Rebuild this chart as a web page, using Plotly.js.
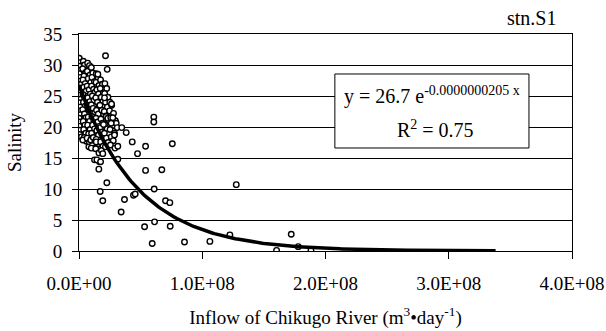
<!DOCTYPE html>
<html>
<head>
<meta charset="utf-8">
<script src="https://cdn.plot.ly/plotly-3.0.1.min.js"></script>
<style>html,body{margin:0;padding:0;background:#fff;}#chart{width:606px;height:331px;}</style>
</head>
<body>
<div id="chart"></div>
<script>
// Observed points: inflow (m3/day) and salinity
const inflow = [
 0.02e7,0.10e7,0.05e7,0.15e7,0.03e7,0.12e7,0.06e7,0.18e7,0.02e7,0.10e7,0.05e7,0.16e7,0.02e7,0.09e7,0.04e7,0.14e7,0.02e7,0.08e7,0.03e7,0.12e7,0.05e7,0.20e7,
 0.35e7,0.45e7,0.30e7,0.55e7,0.40e7,0.32e7,0.50e7,0.38e7,0.58e7,0.33e7,0.46e7,0.36e7,0.52e7,0.30e7,0.44e7,0.56e7,0.34e7,0.48e7,0.38e7,0.55e7,0.42e7,0.60e7,0.31e7,
 0.70e7,0.85e7,0.68e7,0.90e7,0.75e7,0.95e7,0.66e7,0.82e7,0.92e7,0.72e7,0.88e7,0.68e7,0.80e7,0.94e7,0.74e7,0.86e7,0.70e7,0.90e7,0.78e7,0.66e7,0.85e7,0.95e7,0.80e7,
 1.00e7,1.12e7,1.05e7,1.25e7,1.02e7,1.18e7,1.30e7,1.08e7,1.22e7,1.00e7,1.15e7,1.28e7,1.05e7,1.20e7,1.10e7,1.26e7,1.02e7,1.16e7,1.30e7,1.08e7,1.22e7,0.99e7,
 1.40e7,1.55e7,1.38e7,1.62e7,1.45e7,1.58e7,1.36e7,1.50e7,1.64e7,1.42e7,1.56e7,1.38e7,1.52e7,1.65e7,1.44e7,1.58e7,1.40e7,1.55e7,1.36e7,1.62e7,1.40e7,1.53e7,
 1.75e7,1.90e7,1.72e7,1.98e7,1.80e7,1.95e7,1.70e7,1.86e7,2.00e7,1.78e7,1.92e7,1.74e7,1.88e7,2.00e7,1.76e7,1.95e7,1.82e7,
 2.10e7,2.25e7,2.08e7,2.35e7,2.15e7,2.30e7,2.05e7,2.20e7,2.38e7,2.12e7,2.28e7,2.06e7,2.22e7,2.36e7,2.14e7,2.21e7,2.34e7,
 2.50e7,2.65e7,2.48e7,2.80e7,2.58e7,2.95e7,2.70e7,2.52e7,2.88e7,2.62e7,2.78e7,2.55e7,2.92e7,2.74e7,3.02e7,2.61e7,
 2.15e7,2.29e7,2.07e7,2.64e7,6.07e7,6.07e7,3.10e7,3.47e7,3.83e7,4.32e7,5.40e7,7.57e7,4.75e7,2.88e7,3.15e7,3.15e7,
 1.93e7,1.66e7,1.26e7,1.45e7,1.75e7,1.61e7,5.40e7,6.72e7,2.26e7,1.72e7,1.93e7,3.69e7,3.42e7,4.42e7,4.56e7,6.10e7,
 7.02e7,7.37e7,6.13e7,5.32e7,7.40e7,5.94e7,8.56e7,10.62e7,12.24e7,12.76e7,16.03e7,17.22e7,17.79e7,18.82e7,1.99e7
];
const salinity = [
 31.1,30.4,29.8,29.2,28.6,28.0,27.4,26.9,26.3,25.7,25.1,24.5,23.9,23.2,22.6,22.0,21.4,20.8,20.1,19.5,18.8,18.4,
 30.6,30.0,29.4,28.8,28.2,27.6,27.0,26.4,25.8,25.2,24.6,24.0,23.4,22.8,22.1,21.5,20.9,20.3,19.6,19.0,18.3,17.7,17.9,
 30.3,29.9,29.0,28.4,27.8,27.2,26.6,26.0,25.3,24.7,24.1,23.5,22.9,22.2,21.6,20.9,20.3,19.6,18.9,18.2,17.5,17.9,16.8,
 29.6,28.7,28.0,27.3,26.6,26.1,25.6,25.0,24.3,23.6,23.0,22.3,21.7,21.0,20.3,19.7,19.0,18.3,17.6,17.0,16.6,16.6,
 28.6,28.0,27.2,26.7,26.0,25.3,24.7,24.0,23.4,22.7,22.1,21.4,20.8,20.1,19.4,18.7,18.0,17.3,16.5,15.8,17.6,28.5,
 27.6,26.9,26.2,25.5,24.8,24.1,23.5,22.7,22.0,21.3,20.6,19.9,19.2,18.4,17.6,16.9,16.2,
 27.0,26.2,25.4,24.8,24.0,23.2,22.5,21.8,21.1,20.4,19.7,19.0,18.2,17.5,16.8,21.7,21.4,
 24.0,23.5,22.6,22.2,21.5,21.0,20.2,19.6,19.0,18.4,17.8,17.1,16.6,21.5,20.6,20.6,
 31.5,29.3,24.7,23.7,21.6,20.8,19.9,19.9,19.1,17.6,16.9,17.3,15.7,18.7,16.9,14.8,
 15.7,14.4,14.7,14.7,14.4,13.2,13.0,13.1,11.0,9.6,8.1,8.3,6.3,9.0,9.2,10.0,
 8.1,7.8,4.7,3.9,4.0,1.2,1.45,1.55,2.6,10.7,0.1,2.7,0.7,0.1,20.4
];
// Exponential trendline as labelled on the chart: y = a * exp(b * x)
const fitA = 26.7;
const fitB = -0.0000000205;
const fitXMax = 3.38e8;
const fitX = [], fitY = [];
for (let i = 0; i <= 200; i++) { const x = fitXMax * i / 200; fitX.push(x); fitY.push(fitA * Math.exp(fitB * x)); }

const xTickVals = [0, 1e8, 2e8, 3e8, 4e8];
const xTickText = ["0.0E+00", "1.0E+08", "2.0E+08", "3.0E+08", "4.0E+08"];

const F = "'Liberation Serif', serif";
const data = [
 {x: inflow, y: salinity, type: 'scatter', mode: 'markers',
  marker: {symbol: 'circle', size: 5.5, color: '#ffffff', line: {color: '#000000', width: 1.4}}, hoverinfo: 'none'},
 {x: fitX, y: fitY, type: 'scatter', mode: 'lines', line: {color: '#000000', width: 3.5}, hoverinfo: 'none'}
];
const layout = {
 width: 606, height: 331,
 margin: {l: 79, r: 34, t: 34, b: 80},
 paper_bgcolor: '#ffffff', plot_bgcolor: '#ffffff',
 showlegend: false,
 font: {family: F, size: 19, color: '#000000'},
 xaxis: {range: [0, 4e8], showgrid: false, zeroline: false, showline: true, linecolor: '#000', linewidth: 1, mirror: true,
   ticks: 'outside', ticklen: 7, tickcolor: '#000', tickwidth: 1, tickvals: xTickVals, ticktext: xTickText,
   tickfont: {family: F, size: 19, color: '#000'}, ticklabelstandoff: 8,
   title: {text: 'Inflow of Chikugo River (m<sup>3</sup>•day<sup>-1</sup>)', font: {family: F, size: 19, color: '#000'}, standoff: 17}},
 yaxis: {range: [0, 35], dtick: 5, showgrid: true, gridcolor: '#000', gridwidth: 1, zeroline: false, showline: true, linecolor: '#000', linewidth: 1, mirror: true,
   ticks: 'outside', ticklen: 6, tickcolor: '#000', tickwidth: 1, tickfont: {family: F, size: 19, color: '#000'}, ticklabelstandoff: 6,
   title: {text: 'Salinity', font: {family: F, size: 19, color: '#000'}, standoff: 16}},
 shapes: [{type: 'rect', xref: 'paper', yref: 'paper', x0: 0.519, x1: 0.9127, y0: 0.4747, y1: 0.8157,
   line: {color: '#000', width: 1}, fillcolor: '#ffffff', layer: 'above'}],
 annotations: [
  {xref: 'paper', yref: 'paper', x: 0.918, y: 1.074, xanchor: 'center', yanchor: 'middle', showarrow: false,
   text: 'stn.S1', font: {family: F, size: 20, color: '#000'}},
  {xref: 'paper', yref: 'paper', x: 0.7157, y: 0.715, xanchor: 'center', yanchor: 'middle', showarrow: false,
   text: 'y = 26.7 e<sup>-0.0000000205 x</sup>', font: {family: F, size: 20, color: '#000'}},
  {xref: 'paper', yref: 'paper', x: 0.7239, y: 0.562, xanchor: 'center', yanchor: 'middle', showarrow: false,
   text: 'R<sup>2</sup> = 0.75', font: {family: F, size: 20, color: '#000'}}
 ]
};
Plotly.newPlot('chart', data, layout, {staticPlot: true, displayModeBar: false});
</script>
</body>
</html>
